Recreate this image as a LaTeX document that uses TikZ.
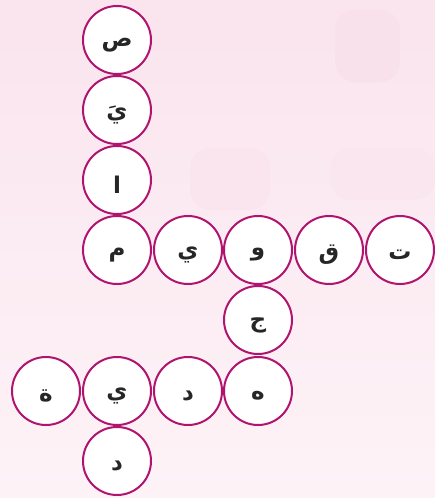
\documentclass[tikz,border=0pt]{standalone}
\usepackage{fontspec}
\newfontfamily\arabicfont[Script=Arabic]{DejaVu Sans}
\TeXXeTstate=1
\definecolor{rim}{RGB}{176,20,110}
\definecolor{bgtop}{RGB}{250,228,238}
\definecolor{bgbot}{RGB}{253,243,247}
\definecolor{bgpatch}{RGB}{248,218,232}
\tikzset{
  cell/.style={circle,draw=rim,line width=2pt,fill=white,minimum size=68pt,inner sep=0pt},
  glyph/.style={text=black!85,font=\arabicfont\bfseries\fontsize{23}{26}\selectfont,yshift=-5pt},
}
\newcommand{\ar}[1]{\beginR #1\endR}
\begin{document}
\begin{tikzpicture}[x=1pt,y=-1pt]
\useasboundingbox (0,0) rectangle (435,498);
\shade[top color=bgtop,bottom color=bgbot] (0,0) rectangle (435,498);
% faint puzzle patches
\fill[bgpatch,opacity=0.35,rounded corners=20pt] (335,10) rectangle (400,82);
\fill[bgpatch,opacity=0.25,rounded corners=20pt] (190,148) rectangle (270,210);
\fill[bgpatch,opacity=0.2,rounded corners=20pt] (330,148) rectangle (435,200);
% circles
\foreach \n/\x/\y in {sad/117/40, ya1/117/110, alif/117/180,
  mim/117/250, ya2/188/250, waw/258/250, qaf/329/250, ta/400/250,
  jim/258/320, ha/258/391, dal1/188/391, ya3/117/391, tam/46/391, dal2/117/461}
  \node[cell] (\n) at (\x,\y) {};
% letters
\node[glyph] (tsad)  at (sad)  {\ar{ص}};
\node[glyph] (tya1)  at (ya1)  {\ar{يَ}};
\node[glyph] (talif) at (alif) {\ar{ا}};
\node[glyph] (tmim)  at (mim)  {\ar{م}};
\node[glyph] (tya2)  at (ya2)  {\ar{ي}};
\node[glyph] (twaw)  at (waw)  {\ar{و}};
\node[glyph] (tqaf)  at (qaf)  {\ar{ق}};
\node[glyph] (tta)   at (ta)   {\ar{ت}};
\node[glyph] (tjim)  at (jim)  {\ar{ج}};
\node[glyph] (tha)   at (ha)   {\ar{ه}};
\node[glyph] (tdal1) at (dal1) {\ar{د}};
\node[glyph] (tya3)  at (ya3)  {\ar{ي}};
\node[glyph] (ttam)  at (tam)  {\ar{ة}};
\node[glyph] (tdal2) at (dal2) {\ar{د}};
\end{tikzpicture}
\end{document}
